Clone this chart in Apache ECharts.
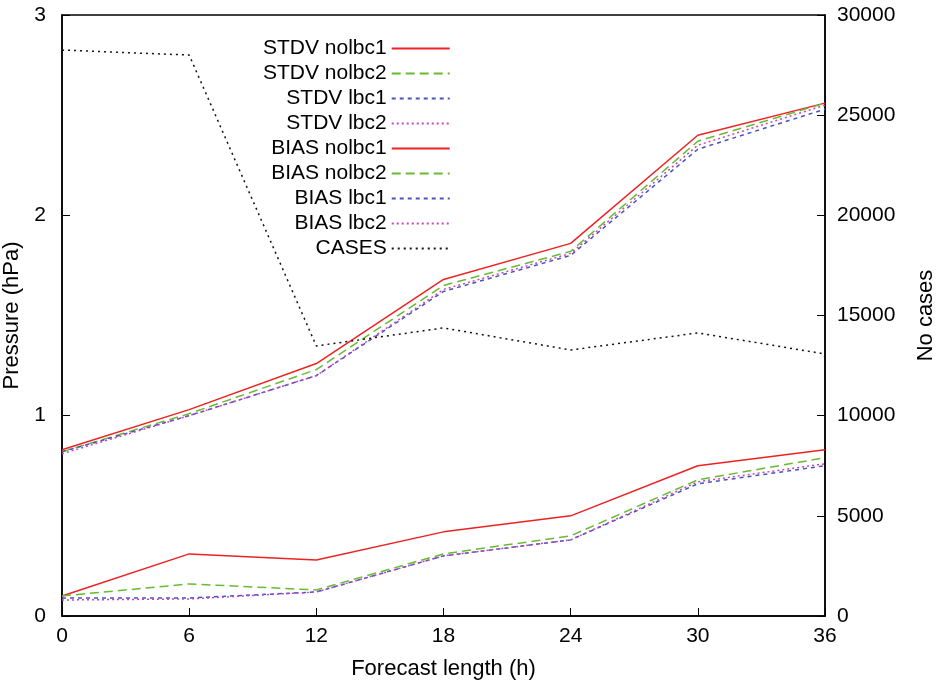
<!DOCTYPE html>
<html>
<head>
<meta charset="utf-8">
<script src="https://cdn.jsdelivr.net/npm/echarts@6/dist/echarts.min.js"></script>
<style>html,body{margin:0;background:#fff}#c{width:936px;height:687px}</style>
</head>
<body>
<div id="c"></div>
<script>
const hours = [0, 6, 12, 18, 24, 30, 36];
const stdvNolbc1 = [0.83, 1.03, 1.26, 1.68, 1.86, 2.40, 2.56];
const stdvNolbc2 = [0.82, 1.01, 1.23, 1.65, 1.82, 2.37, 2.56];
const stdvLbc1 = [0.82, 1.00, 1.20, 1.62, 1.80, 2.33, 2.53];
const stdvLbc2 = [0.81, 1.00, 1.20, 1.63, 1.81, 2.35, 2.55];
const biasNolbc1 = [0.10, 0.31, 0.28, 0.42, 0.50, 0.75, 0.83];
const biasNolbc2 = [0.10, 0.16, 0.13, 0.31, 0.40, 0.68, 0.79];
const biasLbc1 = [0.09, 0.09, 0.12, 0.30, 0.38, 0.66, 0.75];
const biasLbc2 = [0.08, 0.085, 0.12, 0.30, 0.38, 0.67, 0.76];
const cases = [28250, 28000, 13480, 14380, 13280, 14130, 13080];

const font = 'Liberation Sans, Arial, sans-serif';
const pair = (arr) => hours.map((h, i) => [h, arr[i]]);

function line(name, data, color, type, yIdx) {
  return {
    name, type: 'line', data: pair(data), yAxisIndex: yIdx || 0,
    symbol: 'none', animation: false,
    lineStyle: { color, width: 1.5, type },
    itemStyle: { color }
  };
}

const chart = echarts.init(document.getElementById('c'));
chart.setOption({
  textStyle: { fontFamily: font },
  grid: { left: 62, right: 111, top: 15, bottom: 71, outerBoundsMode: 'none', containLabel: false, show: true, borderColor: '#000', borderWidth: 1.5 },
  legend: {
    orient: 'vertical', left: 258, top: 33, align: 'right', itemGap: 4,
    itemWidth: 58, itemHeight: 14,
    itemStyle: { color: 'transparent', borderWidth: 0 },
    textStyle: { fontSize: 21, color: '#000', fontFamily: font },
    data: ['STDV nolbc1', 'STDV nolbc2', 'STDV lbc1', 'STDV lbc2', 'BIAS nolbc1', 'BIAS nolbc2', 'BIAS lbc1', 'BIAS lbc2', 'CASES']
  },
  xAxis: {
    type: 'value', min: 0, max: 36, interval: 6,
    name: 'Forecast length (h)', nameLocation: 'middle', nameGap: 42,
    nameTextStyle: { fontSize: 22, color: '#000' },
    axisLine: { lineStyle: { color: '#000', width: 1.5 } },
    axisTick: { inside: true, length: 8, lineStyle: { color: '#000' } },
    axisLabel: { fontSize: 21, color: '#000', margin: 10 },
    splitLine: { show: false }
  },
  yAxis: [{
    type: 'value', min: 0, max: 3, interval: 1,
    name: 'Pressure (hPa)', nameLocation: 'middle', nameGap: 38,
    nameTextStyle: { fontSize: 22, color: '#000' },
    axisLine: { show: true, lineStyle: { color: '#000', width: 1.5 } },
    axisTick: { inside: true, length: 8, lineStyle: { color: '#000' } },
    axisLabel: { fontSize: 21, color: '#000', margin: 16 },
    splitLine: { show: false }
  }, {
    type: 'value', min: 0, max: 30000, interval: 5000, position: 'right',
    name: 'No cases', nameLocation: 'middle', nameGap: 90, nameRotate: 90,
    nameTextStyle: { fontSize: 22, color: '#000' },
    axisLine: { show: true, lineStyle: { color: '#000', width: 1.5 } },
    axisTick: { inside: true, length: 8, lineStyle: { color: '#000' } },
    axisLabel: { fontSize: 21, color: '#000', margin: 12, formatter: (v) => String(v) },
    splitLine: { show: false }
  }],
  series: [
    line('STDV nolbc1', stdvNolbc1, '#ee2222', 'solid'),
    line('STDV nolbc2', stdvNolbc2, '#66bb33', [9, 5]),
    line('STDV lbc1', stdvLbc1, '#4455bb', [4, 4]),
    line('STDV lbc2', stdvLbc2, '#cc44bb', [2, 3]),
    line('BIAS nolbc1', biasNolbc1, '#ee2222', 'solid'),
    line('BIAS nolbc2', biasNolbc2, '#66bb33', [9, 5]),
    line('BIAS lbc1', biasLbc1, '#4455bb', [4, 4]),
    line('BIAS lbc2', biasLbc2, '#cc44bb', [2, 3]),
    line('CASES', cases, '#111111', [2, 4], 1)
  ]
});
</script>
</body>
</html>
